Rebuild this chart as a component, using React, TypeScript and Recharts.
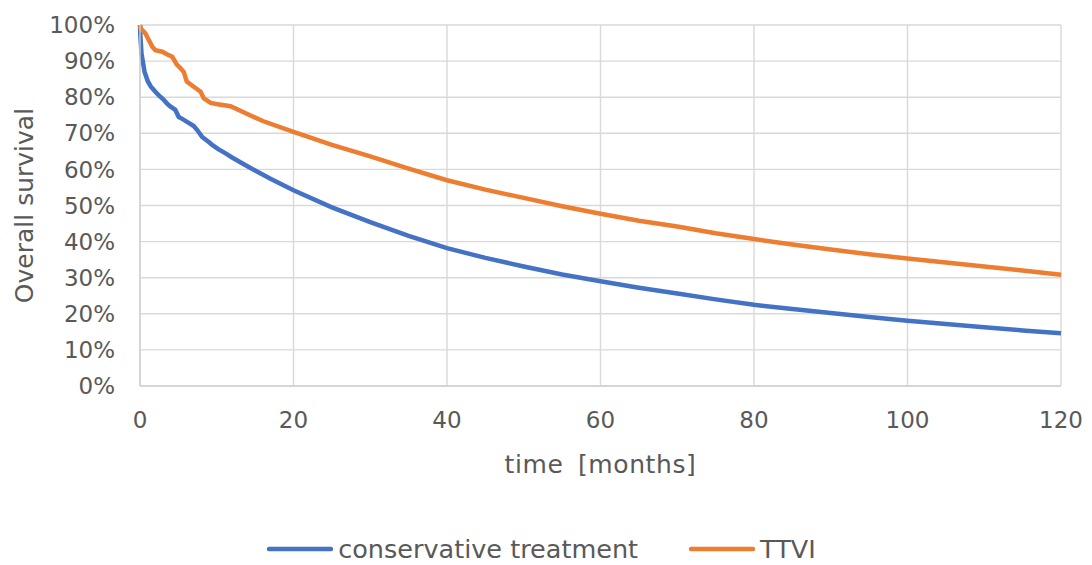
import React from "react";
import { LineChart, Line, XAxis, YAxis, CartesianGrid, Legend } from "recharts";

const consTime = [0, 0.05, 0.2, 0.6, 1.0, 1.4, 2.0, 2.45, 3.0, 3.5, 3.9, 4.6, 5.05, 5.5, 6.4, 7.0, 7.45, 8.1, 9.0, 9.4, 10.2, 11.1, 12.0, 13.3, 15, 17, 20, 25, 30, 35, 40, 45, 50, 55, 60, 65, 70, 75, 80, 85, 90, 95, 100, 105, 110, 115, 120];
const consSurv = [100, 97, 92, 87, 84.5, 83, 81.5, 80.5, 79.5, 78.3, 77.5, 76.5, 74.5, 74, 72.8, 72, 70.9, 69, 67.5, 66.8, 65.6, 64.5, 63.3, 61.7, 59.7, 57.4, 54.2, 49.5, 45.4, 41.6, 38.2, 35.5, 33.1, 30.9, 29.0, 27.2, 25.6, 24.0, 22.5, 21.3, 20.2, 19.1, 18.1, 17.2, 16.3, 15.4, 14.6];

const ttviTime = [0, 0.1, 0.7, 1.15, 1.6, 2.0, 2.9, 3.5, 4.2, 4.8, 5.2, 5.7, 6.1, 7.0, 7.9, 8.3, 9.2, 10.3, 11.8, 13.7, 16, 20, 25, 30, 35, 40, 45, 50, 55, 60, 65, 70, 75, 80, 85, 90, 95, 100, 105, 110, 115, 120];
const ttviSurv = [100, 99, 97.7, 95.8, 94, 93, 92.6, 91.9, 91.2, 89, 88.2, 87, 84.3, 82.9, 81.5, 79.7, 78.4, 78.0, 77.5, 75.6, 73.4, 70.4, 66.8, 63.6, 60.2, 57.0, 54.4, 52.1, 49.8, 47.7, 45.8, 44.2, 42.3, 40.7, 39.2, 37.8, 36.5, 35.3, 34.2, 33.1, 32.0, 30.8];

const xTicks = [0, 20, 40, 60, 80, 100, 120];
const yTicks = [0, 10, 20, 30, 40, 50, 60, 70, 80, 90, 100];

const seriesNames = ["conservative treatment", "TTVI"];
const seriesColors = ["#4472C4", "#ED7D31"];

const consData = consTime.map((t, i) => ({ t, s: consSurv[i] }));
const ttviData = ttviTime.map((t, i) => ({ t, s: ttviSurv[i] }));

const FONT = "'DejaVu Sans', sans-serif";
const TEXT = "#595959";

const renderLegend = (props: any) => {
  const items = [...(props.payload || [])].sort(
    (a: any, b: any) => seriesNames.indexOf(a.value) - seriesNames.indexOf(b.value)
  );
  return (
    <div style={{ display: "flex", justifyContent: "center", alignItems: "center", height: 40, paddingTop: 8, paddingLeft: 22, boxSizing: "border-box" }}>
      {items.map((p: any, i: number) => (
        <div key={i} style={{ display: "flex", alignItems: "center", marginLeft: i === 0 ? 0 : 51 }}>
          <svg width={66} height={10} style={{ marginRight: 5 }}>
            <line x1={2} y1={5} x2={64} y2={5} stroke={p.color} strokeWidth={4.5} strokeLinecap="round" />
          </svg>
          <span style={{ fontFamily: FONT, fontSize: 25.5, color: TEXT, lineHeight: "28px" }}>{p.value}</span>
        </div>
      ))}
    </div>
  );
};

export default function App() {
  return (
    <div style={{ position: "absolute", left: 0, top: 0, width: 1092, height: 565, background: "#fff" }}>
      <LineChart width={1092} height={565} margin={{ top: 25, right: 31, left: 0, bottom: 0 }}>
        <CartesianGrid stroke="#d9d9d9" strokeWidth={1.4} horizontal vertical />
        <XAxis
          type="number"
          dataKey="t"
          domain={[0, 120]}
          ticks={xTicks}
          height={139}
          tickLine={false}
          tickSize={0}
          tickMargin={26}
          axisLine={{ stroke: "#d0d0d0", strokeWidth: 1.4 }}
          tick={{ fill: TEXT, fontSize: 23, fontFamily: FONT }}
          label={{ value: "time [months]", position: "insideBottom", offset: 52, fill: TEXT, fontSize: 25, fontFamily: FONT, style: { wordSpacing: "6px", letterSpacing: "0.6px" } }}
        />
        <YAxis
          type="number"
          domain={[0, 100]}
          ticks={yTicks}
          width={140}
          tickLine={false}
          tickSize={0}
          tickMargin={25}
          axisLine={{ stroke: "#d0d0d0", strokeWidth: 1.4 }}
          tickFormatter={(v: number) => `${v}%`}
          tick={{ fill: TEXT, fontSize: 23, fontFamily: FONT }}
          label={{ value: "Overall survival", angle: -90, position: "insideLeft", offset: 24, fill: TEXT, fontSize: 25, fontFamily: FONT, style: { textAnchor: "middle" } }}
        />
        <Legend verticalAlign="bottom" height={40} content={renderLegend} />
        <Line data={consData} dataKey="s" name={seriesNames[0]} stroke={seriesColors[0]} strokeWidth={4.5} dot={false} type="linear" isAnimationActive={false} />
        <Line data={ttviData} dataKey="s" name={seriesNames[1]} stroke={seriesColors[1]} strokeWidth={4.5} dot={false} type="linear" isAnimationActive={false} />
      </LineChart>
    </div>
  );
}
